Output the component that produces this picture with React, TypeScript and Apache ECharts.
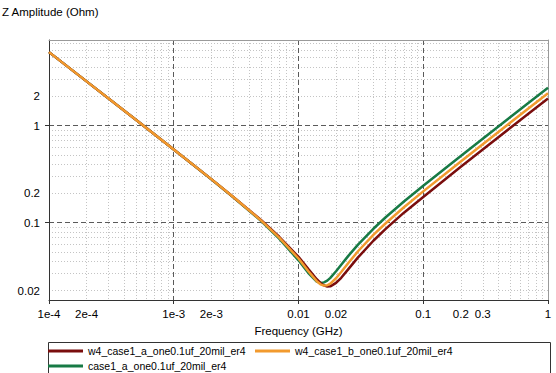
import React, { useEffect, useRef } from 'react';
import * as echarts from 'echarts';

// Frequency samples (GHz)
const freqGHz = [1e-4, 2e-4, 5e-4, 1e-3, 2e-3, 3e-3, 5e-3, 7e-3, 0.01, 0.012, 0.014, 0.015, 0.016, 0.017, 0.018, 0.02, 0.022, 0.025, 0.03, 0.04, 0.05, 0.07, 0.1, 0.2, 0.3, 0.5, 0.7, 1];

// Impedance magnitude (Ohm)
const zW4CaseA = [5.7, 2.85, 1.14, 0.568, 0.281, 0.184, 0.1068, 0.0716, 0.0445, 0.0333, 0.0262, 0.024, 0.0226, 0.022, 0.0221, 0.024, 0.0271, 0.0331, 0.0439, 0.0656, 0.0864, 0.1268, 0.184, 0.377, 0.568, 0.95, 1.33, 1.9];
const zW4CaseB = [5.7, 2.85, 1.14, 0.568, 0.281, 0.1836, 0.1057, 0.0701, 0.0428, 0.0316, 0.025, 0.0232, 0.0225, 0.0227, 0.0236, 0.0268, 0.0311, 0.0383, 0.0508, 0.0752, 0.0987, 0.1442, 0.21, 0.427, 0.643, 1.075, 1.505, 2.15];
const zCase1A = [5.7, 2.85, 1.139, 0.568, 0.28, 0.1827, 0.1046, 0.0686, 0.041, 0.0303, 0.0248, 0.024, 0.0243, 0.0253, 0.027, 0.0316, 0.0369, 0.0453, 0.0595, 0.0871, 0.1137, 0.1652, 0.24, 0.487, 0.733, 1.225, 1.715, 2.45];

const seriesNames = ['w4_case1_a_one0.1uf_20mil_er4', 'w4_case1_b_one0.1uf_20mil_er4', 'case1_a_one0.1uf_20mil_er4'];

// Axis ticks
const xMajorTicks = [1e-4, 1e-3, 0.01, 0.1, 1];
const xLabelValues = [1e-4, 2e-4, 1e-3, 2e-3, 0.01, 0.02, 0.1, 0.2, 0.3, 1];
const xLabelTexts = ['1e-4', '2e-4', '1e-3', '2e-3', '0.01', '0.02', '0.1', '0.2', '0.3', '1'];
const yMajorTicks = [0.1, 1];
const yLabelValues = [0.02, 0.1, 0.2, 1, 2];
const yLabelTexts = ['0.02', '0.1', '0.2', '1', '2'];
const xDecades = [1e-4, 1e-3, 0.01, 0.1];
const yDecades = [0.01, 0.1, 1];
const minorMultipliers = [2, 3, 4, 5, 6, 7, 8, 9];

const X_MIN = 1e-4;
const X_MAX = 1;
const Y_MIN = 0.016;
const Y_MAX = 7.6;

const FONT = '"Liberation Sans", Arial, sans-serif';

function minorValues(decades: number[], lo: number, hi: number) {
  const out: number[] = [];
  decades.forEach((d) => minorMultipliers.forEach((m) => {
    const v = parseFloat((d * m).toPrecision(6));
    if (v > lo && v < hi) out.push(v);
  }));
  return out;
}

function labelFor(values: number[], texts: string[]) {
  return (v: number) => {
    for (let i = 0; i < values.length; i++) {
      if (Math.abs(Math.log10(v) - Math.log10(values[i])) < 1e-6) return texts[i];
    }
    return '';
  };
}

export default function App() {
  const ref = useRef<HTMLDivElement>(null);
  useEffect(() => {
    if (!ref.current) return;
    const chart = echarts.init(ref.current, undefined, { renderer: 'svg' });
    const mk = (vals: number[]) => freqGHz.map((f, i) => [f, vals[i]]);
    const majorDash = { color: '#5a5a5a', type: [5, 3] as any, width: 1 };
    const minorDot = { color: '#c4c4c4', type: [1, 2] as any, width: 1 };
    const textStyle = { fontFamily: FONT, fontSize: 11.5, color: '#000' };
    const legendCommon = {
      icon: 'rect',
      itemWidth: 35,
      itemHeight: 3,
      padding: 0,
      selectedMode: false,
      textStyle: { fontFamily: FONT, fontSize: 10.5, color: '#000', lineHeight: 14 },
    };
    chart.setOption({
      animation: false,
      backgroundColor: '#fff',
      title: {
        text: 'Z Amplitude (Ohm)',
        left: 2,
        top: 6,
        padding: 0,
        textStyle: { ...textStyle, fontWeight: 'normal' },
      },
      grid: { left: 49, right: 8, top: 40, bottom: 73, containLabel: false },
      xAxis: [
        {
          type: 'log',
          min: X_MIN,
          max: X_MAX,
          position: 'bottom',
          name: 'Frequency (GHz)',
          nameLocation: 'middle',
          nameGap: 21,
          nameTextStyle: textStyle,
          axisLine: { show: true, lineStyle: { color: '#333', width: 1 } },
          axisTick: { show: true, inside: false, length: 4, lineStyle: { color: '#333' }, customValues: xMajorTicks },
          axisLabel: { show: true, margin: 8, ...textStyle, customValues: xLabelValues, formatter: labelFor(xLabelValues, xLabelTexts) },
          splitLine: { show: true, lineStyle: majorDash },
        },
        {
          type: 'log',
          min: X_MIN,
          max: X_MAX,
          position: 'top',
          axisLine: { show: true, lineStyle: { color: '#9a9a9a', width: 1 } },
          axisTick: { show: false, customValues: minorValues(xDecades, X_MIN, X_MAX) },
          axisLabel: { show: false },
          splitLine: { show: true, lineStyle: minorDot },
        },
      ],
      yAxis: [
        {
          type: 'log',
          min: Y_MIN,
          max: Y_MAX,
          position: 'left',
          axisLine: { show: true, lineStyle: { color: '#333', width: 1 } },
          axisTick: { show: true, inside: false, length: 4, lineStyle: { color: '#333' }, customValues: yMajorTicks },
          axisLabel: { show: true, margin: 9, ...textStyle, customValues: yLabelValues, formatter: labelFor(yLabelValues, yLabelTexts) },
          splitLine: { show: true, lineStyle: majorDash },
        },
        {
          type: 'log',
          min: Y_MIN,
          max: Y_MAX,
          position: 'right',
          axisLine: { show: true, lineStyle: { color: '#9a9a9a', width: 1 } },
          axisTick: { show: false, customValues: minorValues(yDecades, Y_MIN, Y_MAX) },
          axisLabel: { show: false },
          splitLine: { show: true, lineStyle: minorDot },
        },
      ],
      legend: [
        { ...legendCommon, data: [seriesNames[0]], left: 48, top: 344 },
        { ...legendCommon, data: [seriesNames[1]], left: 255, top: 344 },
        { ...legendCommon, data: [seriesNames[2]], left: 48, top: 359 },
      ],
      graphic: [
        {
          type: 'rect',
          shape: { x: 48.5, y: 342.5, width: 502, height: 40 },
          style: { fill: 'none', stroke: '#333', lineWidth: 1 },
          silent: true,
        },
      ],
      series: [
        {
          name: seriesNames[2],
          type: 'line',
          xAxisIndex: 0,
          yAxisIndex: 0,
          data: mk(zCase1A),
          showSymbol: false,
          color: '#177a45',
          lineStyle: { width: 2.5, color: '#177a45' },
          z: 3,
        },
        {
          name: seriesNames[0],
          type: 'line',
          xAxisIndex: 0,
          yAxisIndex: 0,
          data: mk(zW4CaseA),
          showSymbol: false,
          color: '#7a0d0d',
          lineStyle: { width: 2.5, color: '#7a0d0d' },
          z: 4,
        },
        {
          name: seriesNames[1],
          type: 'line',
          xAxisIndex: 0,
          yAxisIndex: 0,
          data: mk(zW4CaseB),
          showSymbol: false,
          color: '#f29a2e',
          lineStyle: { width: 2.5, color: '#f29a2e' },
          z: 5,
        },
      ],
    });
    return () => chart.dispose();
  }, []);
  return <div ref={ref} style={{ position: 'fixed', left: 0, top: 0, width: 556, height: 373 }} />;
}
